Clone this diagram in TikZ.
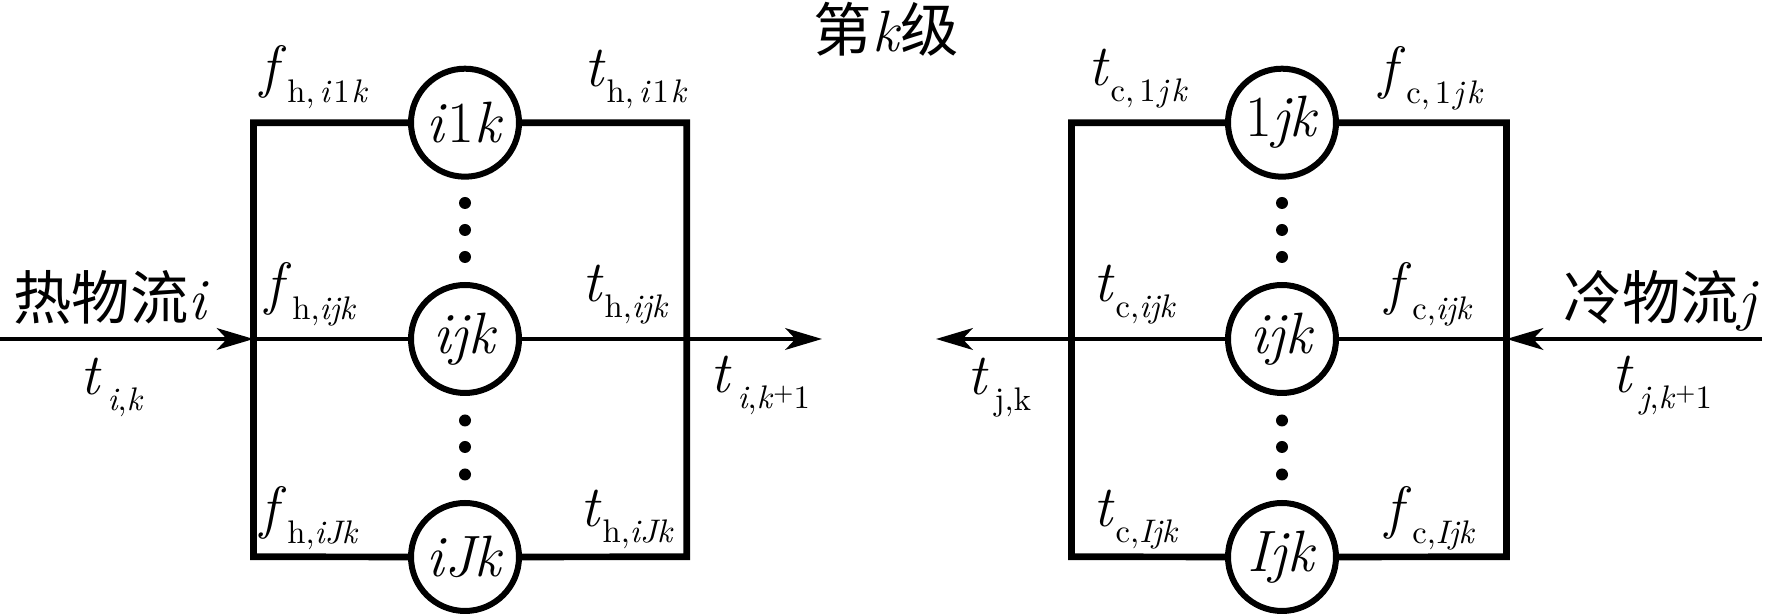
\documentclass[tikz,border=0pt]{standalone}
\usepackage{fontspec}
\newfontfamily\cjk{Noto Sans CJK SC}
\usetikzlibrary{arrows.meta}
\newcommand\mysub[1]{\kern0.2pt\raisebox{-4.6pt}{\fontsize{9.8}{9.8}\selectfont #1}}
\newcommand\myit[1]{\textit{#1}}
\newcommand\mypl{\raisebox{2.2pt}{\fontsize{7}{7}\selectfont +}}
\begin{document}
\begin{tikzpicture}[x=0.3pt,y=-0.3pt,
  every node/.style={font=\fontsize{17.5}{20}\selectfont, inner sep=0pt},
  lab/.style={anchor=base west},
  hx/.style={draw, circle, line width=1.8pt, minimum size=32.4pt, fill=white, inner sep=0pt},
  boxline/.style={line width=2pt, line join=miter},
  flow/.style={line width=1.2pt},
  flowarr/.style={line width=1.2pt, -{Stealth[length=11pt,width=6.5pt,inset=3pt]}},
  dotm/.style={fill=black}]
\useasboundingbox (0,0) rectangle (1766,615);
% ---------- left (hot) ----------
\coordinate (LTL) at (253.5,122.7);
\coordinate (LTR) at (686.7,122.7);
\coordinate (LBL) at (253.5,556.7);
\coordinate (LBR) at (686.7,556.7);
\coordinate (LML) at (253.5,339);
\coordinate (LMR) at (686.7,339);
\coordinate (Lin) at (0,339);
\coordinate (Lout) at (822,339);
\node[hx] (hA) at (465,122.7) {\myit{i}1\myit{k}};
\node[hx] (hB) at (465,339) {\myit{ijk}};
\node[hx] (hC) at (465,557) {\myit{iJk}};
\draw[boxline] (hA.west) -- (LTL) -- (LBL) -- (hC.west);
\draw[boxline] (hA.east) -- (LTR) -- (LBR) -- (hC.east);
\draw[flowarr] (Lin) -- (LML);
\draw[flow] (LML) -- (hB.west);
\draw[flow] (hB.east) -- (LMR);
\draw[flowarr] (LMR) -- (Lout);
\foreach \yy in {203,230,257,420.5,447,474.5} \fill[dotm] (465,\yy) circle (1.8pt);
\node[lab] (fh1) at (260,87) {\myit{f}\mysub{h,\kern1.5pt\myit{i}\kern0.6pt1\kern0.6pt\myit{k}}};
\node[lab] (th1) at (584,87) {\myit{t}\mysub{h,\kern1.5pt\myit{i}\kern0.6pt1\kern0.6pt\myit{k}}};
\node[lab] (fh2) at (265,304) {\myit{f}\mysub{h,\myit{ijk}}};
\node[lab] (th2) at (582,302) {\myit{t}\mysub{h,\myit{ijk}}};
\node[lab] (fh3) at (260,528) {\myit{f}\mysub{h,\myit{iJk}}};
\node[lab] (th3) at (580,527) {\myit{t}\mysub{h,\myit{iJk}}};
\node[lab] (hot) at (13,320) {{\cjk 热物流}\myit{i}};
\node[lab] (tik) at (80,395) {\myit{t}\mysub{\kern1.5pt\myit{i},\myit{k}}};
\node[lab] (tik1) at (710,393) {\myit{t}\mysub{\kern1.5pt\myit{i},\myit{k}\mypl1}};
% ---------- title ----------
\node[lab] (title) at (813,52) {{\cjk 第}\myit{k}{\cjk 级}};
% ---------- right (cold) ----------
\coordinate (RTL) at (1071.5,122.7);
\coordinate (RTR) at (1506.5,122.7);
\coordinate (RBL) at (1071.5,556.7);
\coordinate (RBR) at (1506.5,556.7);
\coordinate (RML) at (1071.5,339);
\coordinate (RMR) at (1506.5,339);
\coordinate (Rin) at (1762,339);
\coordinate (Rout) at (936,339);
\node[hx] (cA) at (1282,122.7) {1\myit{jk}};
\node[hx] (cB) at (1282,339) {\myit{ijk}};
\node[hx] (cC) at (1282,557) {\myit{Ijk}};
\draw[boxline] (cA.west) -- (RTL) -- (RBL) -- (cC.west);
\draw[boxline] (cA.east) -- (RTR) -- (RBR) -- (cC.east);
\draw[flowarr] (Rin) -- (RMR);
\draw[flow] (RMR) -- (cB.east);
\draw[flow] (cB.west) -- (RML);
\draw[flowarr] (RML) -- (Rout);
\foreach \yy in {203,230,257,420.5,447,474.5} \fill[dotm] (1282,\yy) circle (1.8pt);
\node[lab] (tc1) at (1088,86) {\myit{t}\mysub{c,\kern1.5pt1\kern0.6pt\myit{j}\kern0.6pt\myit{k}}};
\node[lab] (fc1) at (1379,88) {\myit{f}\mysub{c,\kern1.5pt1\kern0.6pt\myit{j}\kern0.6pt\myit{k}}};
\node[lab] (tc2) at (1093,302) {\myit{t}\mysub{c,\myit{ijk}}};
\node[lab] (fc2) at (1385,304) {\myit{f}\mysub{c,\myit{ijk}}};
\node[lab] (tc3) at (1093,527) {\myit{t}\mysub{c,\myit{Ijk}}};
\node[lab] (fc3) at (1385,528) {\myit{f}\mysub{c,\myit{Ijk}}};
\node[lab] (cold) at (1563,320) {{\cjk 冷物流}\myit{j}};
\node[lab] (tjk) at (967,395) {\myit{t}\mysub{\kern1.5pt j,k}};
\node[lab] (tjk1) at (1612,393) {\myit{t}\mysub{\kern1.5pt\myit{j},\myit{k}\mypl1}};
\end{tikzpicture}
\end{document}
